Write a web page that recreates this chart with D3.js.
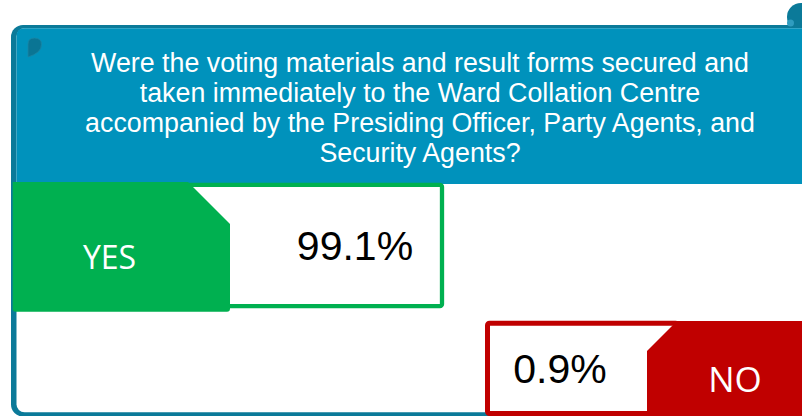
<!DOCTYPE html>
<html><head><meta charset="utf-8">
<script src="https://cdn.jsdelivr.net/npm/d3@7"></script>
<style>html,body{margin:0;padding:0;background:#fff;overflow:hidden}svg{display:block}</style>
</head><body><svg id="c" width="802" height="416"></svg>
<script>
// ---- data ----
const titleLines = [
  "Were the voting materials and result forms secured and",
  "taken immediately to the Ward Collation Centre",
  "accompanied by the Presiding Officer, Party Agents, and",
  "Security Agents?"
];
const categories = ["YES", "NO"];
const values = [99.1, 0.9];
const categoryColors = ["#00B050", "#C00000"];

// ---- drawing ----
const svg = d3.select("#c");
const W = 802, H = 416;
const frameDark = "#0B7A99", bandFill = "#0092BC";

// scroll curl (top right)
svg.append("circle").attr("cx", 801).attr("cy", 17).attr("r", 14).attr("fill", frameDark);

// frame
svg.append("rect").attr("x", 11).attr("y", 25).attr("width", 900).attr("height", 391.5)
  .attr("rx", 12).attr("fill", frameDark);
svg.append("rect").attr("x", 16.5).attr("y", 28.3).attr("width", 900).attr("height", 384)
  .attr("rx", 8).attr("fill", "#fff");
svg.append("path").attr("d", "M16.5,184 V36.3 Q16.5,28.3 24.5,28.3 H802 V184 Z").attr("fill", bandFill);
svg.append("circle").attr("cx", 790.5).attr("cy", 23).attr("r", 3.5).attr("fill", "#2F9CBF");

// small curl (top left)
svg.append("path").attr("d", "M28,57 V44 Q28,38 34.5,38 Q41.5,38 41.5,44.5 Q41.5,53 28,57 Z")
  .attr("fill", "#0A7594").attr("stroke", "#1B86A6").attr("stroke-width", 0.8);

// title
svg.append("g").selectAll("text").data(titleLines).join("text")
  .attr("x", 420).attr("y", (d, i) => 71.7 + i * 30)
  .attr("text-anchor", "middle")
  .attr("font-family", "'Liberation Sans', Arial, sans-serif")
  .attr("font-size", 26.8).attr("fill", "#fff")
  .text(d => d);

// rows via band scale
const y = d3.scaleBand().domain(categories).range([182.7, 446.3]).paddingInner(0.09).paddingOuter(0);
const color = d3.scaleOrdinal().domain(categories).range(categoryColors);
const fmt = d3.format(".1f");
const rows = categories.map((c, i) => ({ cat: c, value: values[i] }));

rows.forEach((r, i) => {
  const top = y(r.cat), bw = y.bandwidth();
  const col = color(r.cat);
  const g = svg.append("g");
  if (i === 0) {
    g.append("rect").attr("x", 20).attr("y", top + 2.15).attr("width", 422).attr("height", bw - 4.3)
      .attr("rx", 2).attr("fill", "#fff").attr("stroke", col).attr("stroke-width", 4.3);
    const b = top + bw + 3.4;
    g.append("path").attr("d",
      `M12.7,${top - 0.7} H188 L230,${top + 41.3} V${b - 3} Q230,${b} 227,${b} H15.7 Q12.7,${b} 12.7,${b - 3} Z`)
      .attr("fill", col);
    g.append("text").attr("x", 109.5).attr("y", top + 86.6).attr("text-anchor", "middle")
      .attr("font-family", "'Open Sans', sans-serif").attr("font-size", 32).attr("fill", "#fff").text(r.cat);
    g.append("text").attr("x", 355).attr("y", top + 77.3).attr("text-anchor", "middle")
      .attr("font-family", "'Liberation Sans', Arial, sans-serif").attr("font-size", 41).attr("fill", "#000")
      .text(fmt(r.value) + "%");
  } else {
    g.append("rect").attr("x", 487.5).attr("y", top + 2.5).attr("width", 190).attr("height", H - top - 5)
      .attr("rx", 2).attr("fill", "#fff").attr("stroke", col).attr("stroke-width", 5);
    g.append("path").attr("d", `M647,${top + 30.3} L677,${top + 0.3} H840 V${H + 20} H647 Z`).attr("fill", col);
    g.append("text").attr("x", 735).attr("y", top + 71).attr("text-anchor", "middle")
      .attr("font-family", "'Open Sans', sans-serif").attr("font-size", 35).attr("fill", "#fff").text(r.cat);
    g.append("text").attr("x", 560).attr("y", top + 62).attr("text-anchor", "middle")
      .attr("font-family", "'Liberation Sans', Arial, sans-serif").attr("font-size", 41).attr("fill", "#000")
      .text(fmt(r.value) + "%");
  }
});
</script>
</body></html>
